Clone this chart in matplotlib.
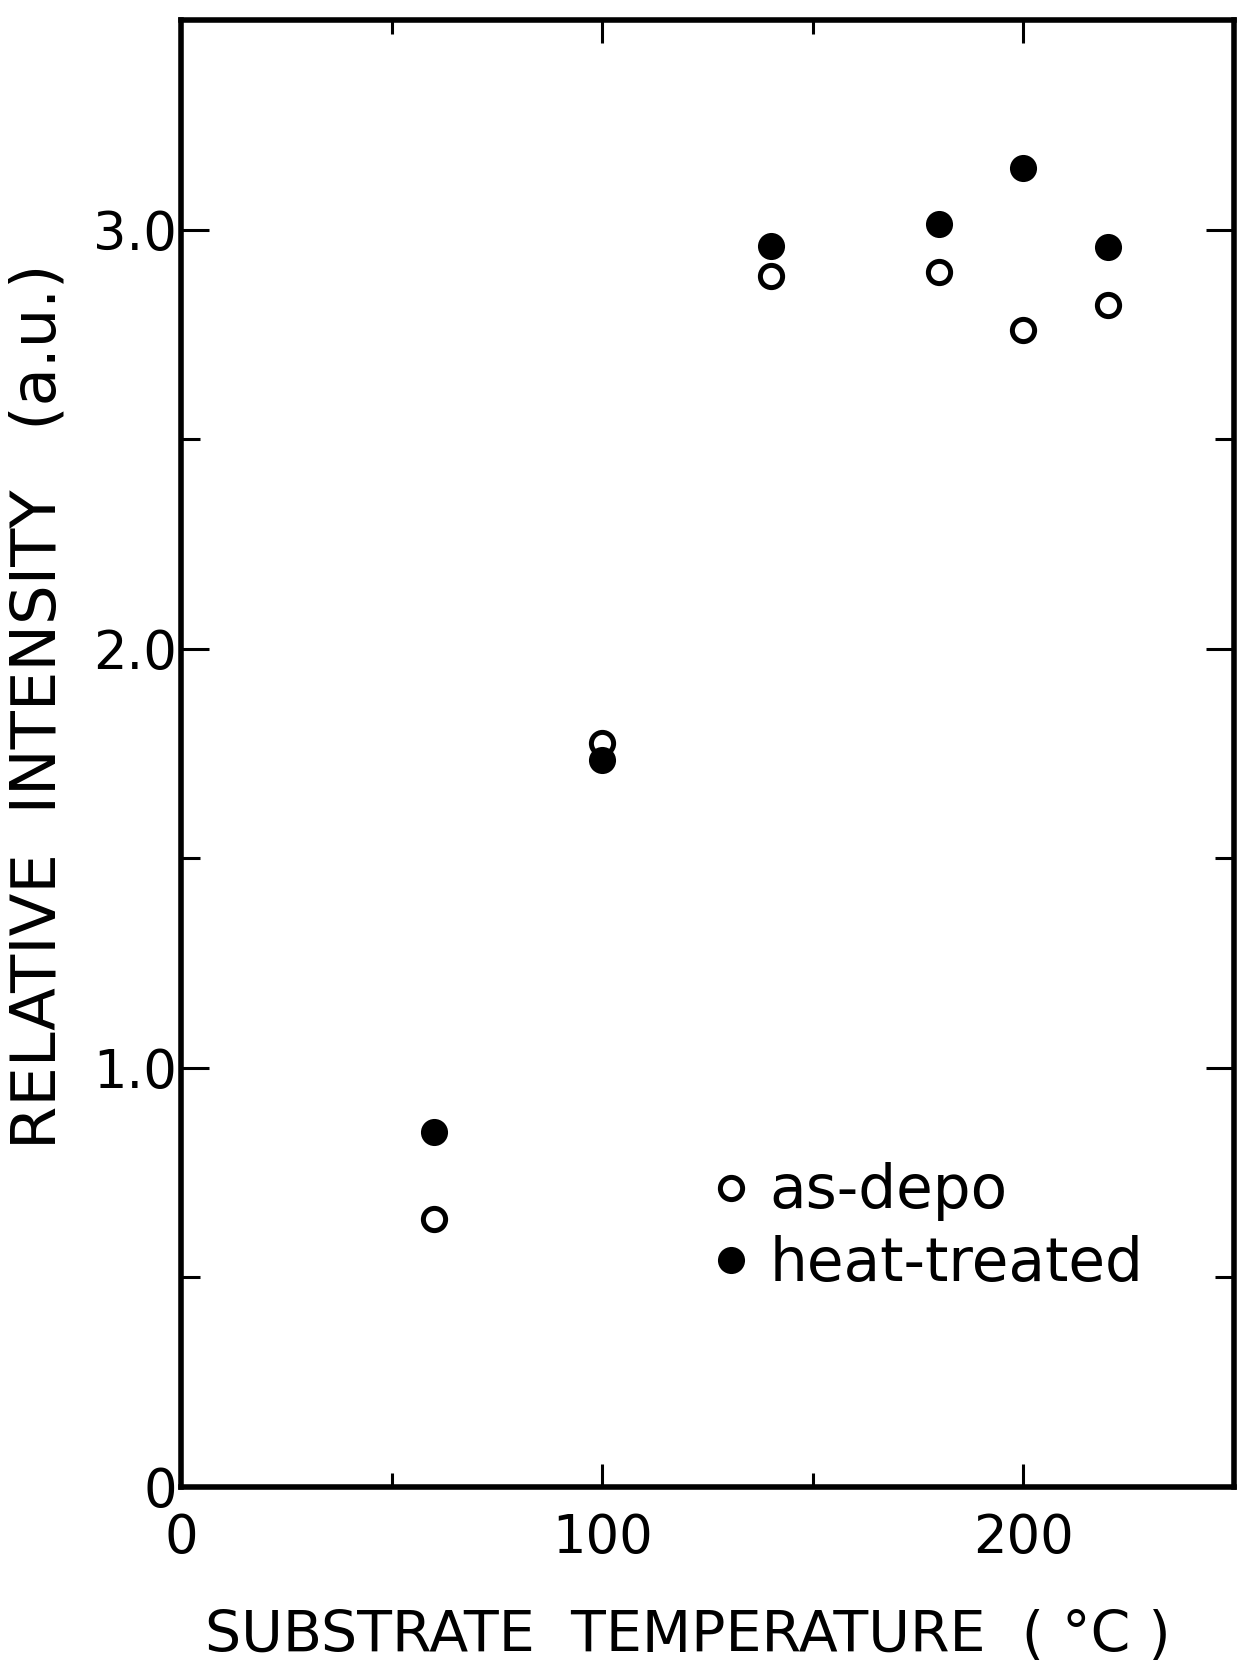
import numpy as np
import matplotlib
matplotlib.use("Agg")
import matplotlib.pyplot as plt
from matplotlib.ticker import FixedLocator, FixedFormatter

# substrate temperature (degC) and relative intensity (a.u.)
temp = [60, 100, 140, 180, 200, 220]
as_depo = [0.64, 1.776, 2.89, 2.90, 2.76, 2.82]
heat_treated = [0.847, 1.735, 2.962, 3.014, 3.146, 2.959]

plt.rcParams['font.family'] = ['DejaVu Sans']

fig = plt.figure(figsize=(12.39, 16.72), dpi=100)
ax = fig.add_axes([0.1461, 0.1107, 0.8499, 0.8773])

ax.plot(temp, as_depo, 'o', ms=16, mfc='white', mec='black', mew=3.6,
        ls='none', label='as-depo')
ax.plot(temp, heat_treated, 'o', ms=18, mfc='black', mec='black', mew=1.5,
        ls='none', label='heat-treated')

ax.set_xlim(0, 250)
ax.set_ylim(0, 3.5)

ax.xaxis.set_major_locator(FixedLocator([0, 100, 200]))
ax.xaxis.set_minor_locator(FixedLocator([50, 150]))
ax.yaxis.set_major_locator(FixedLocator([0, 1, 2, 3]))
ax.yaxis.set_major_formatter(FixedFormatter(['0', '1.0', '2.0', '3.0']))
ax.yaxis.set_minor_locator(FixedLocator([0.5, 1.5, 2.5]))

for s in ax.spines.values():
    s.set_linewidth(4)

ax.tick_params(axis='both', which='both', direction='in', top=True, right=True,
               width=2.2, color='black')
ax.tick_params(axis='x', which='major', length=16.5, labelsize=38, pad=18)
ax.tick_params(axis='x', which='minor', length=10)
ax.tick_params(axis='y', which='major', length=20, labelsize=38, pad=3)
ax.tick_params(axis='y', which='minor', length=14)

ax.set_xlabel('SUBSTRATE  TEMPERATURE  ( °C )', fontsize=41)
ax.xaxis.set_label_coords(0.481, -0.083)
ax.set_ylabel('RELATIVE  INTENSITY   (a.u.)', fontsize=45)
ax.yaxis.set_label_coords(-0.107, 0.532)

ax.legend(loc='center left', bbox_to_anchor=(0.508, 0.1765), frameon=False,
          fontsize=43, handlelength=0.5, handletextpad=0.4, labelspacing=0.22,
          borderpad=0, borderaxespad=0, markerscale=1.0)

fig.savefig('out.png', dpi=100)
